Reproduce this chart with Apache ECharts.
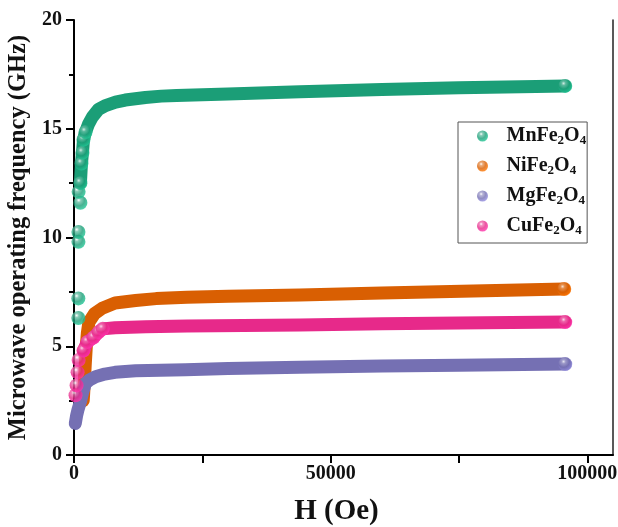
<!DOCTYPE html>
<html>
<head>
<meta charset="utf-8">
<script src="https://cdn.jsdelivr.net/npm/echarts@6/dist/echarts.min.js"></script>
<style>html,body{margin:0;padding:0;background:#fff;}#c{width:618px;height:527px;}</style>
</head>
<body>
<div id="c"></div>
<script>
// ---- data (H in Oe, frequency in GHz) ----
const names = ['MnFe2O4', 'NiFe2O4', 'MgFe2O4', 'CuFe2O4'];
const legendLabels = ['MnFe{s|2}O{s|4}', 'NiFe{s|2}O{s|4}', 'MgFe{s|2}O{s|4}', 'CuFe{s|2}O{s|4}'];

const hMn = [850, 850, 870, 870, 1250, 900, 1250, 1450, 1650, 1850, 2250, 2800, 3600, 4800, 6000, 8100, 10000, 13900, 17000, 20000, 30000, 44000, 60000, 75000, 90000, 95700];
const fMn = [6.3, 7.2, 9.8, 10.25, 11.6, 12.1, 12.5, 13.4, 13.9, 14.5, 14.85, 15.2, 15.55, 15.9, 16.05, 16.22, 16.32, 16.44, 16.5, 16.53, 16.6, 16.7, 16.8, 16.88, 16.94, 16.97];

const hNi = [1800, 2000, 2200, 2400, 2600, 2900, 4000, 5500, 8000, 12000, 16000, 22000, 30000, 44000, 60000, 80000, 95500];
const fNi = [2.5, 3.3, 4.2, 5.0, 5.6, 6.1, 6.5, 6.75, 6.99, 7.1, 7.19, 7.25, 7.3, 7.36, 7.45, 7.55, 7.63];

const hMg = [250, 500, 800, 1250, 1700, 2250, 3000, 4200, 6000, 8000, 12000, 21700, 30000, 44000, 60000, 75000, 95700];
const fMg = [1.45, 1.8, 2.1, 2.45, 2.9, 3.3, 3.45, 3.6, 3.72, 3.8, 3.87, 3.92, 3.98, 4.04, 4.09, 4.13, 4.18];

const hCu = [300, 500, 700, 900, 1850, 2600, 3800, 4800, 5600, 8000, 14000, 22000, 44000, 60000, 80000, 95700];
const fCu = [2.75, 3.2, 3.8, 4.37, 4.8, 5.2, 5.4, 5.65, 5.8, 5.85, 5.9, 5.93, 5.98, 6.03, 6.08, 6.11];

const xTickLabels = [0, 50000, 100000];
const xTickMarks = [0, 25000, 50000, 75000, 100000];
const yTicks = [0, 5, 10, 15, 20];

// ---- styling ----
const colors = ['#1b9e77', '#d95f02', '#7570b3', '#e7298a'];
const fields = [hMn, hNi, hMg, hCu];
const freqs = [fMn, fNi, fMg, fCu];
// index where the continuous band begins, and how many leading points are drawn as separate spheres
const bandFrom = [6, 0, 0, 4];
const sphereCount = [11, 0, 0, 9];

function sphere(c) {
  return {
    type: 'radial', x: 0.38, y: 0.32, r: 0.68,
    colorStops: [
      { offset: 0, color: '#ffffff' },
      { offset: 0.22, color: echarts.color.lift(c, 0.35) },
      { offset: 0.6, color: c },
      { offset: 1, color: echarts.color.lift(c, -0.25) }
    ]
  };
}

const font = '"Liberation Serif", "Times New Roman", serif';
const series = [];
names.forEach((n, i) => {
  const pts = fields[i].map((h, k) => [h, freqs[i][k]]);
  const sp = pts.slice(0, sphereCount[i]).concat([pts[pts.length - 1]]);
  series.push({
    name: n, type: 'scatter', data: sp, symbol: 'circle', symbolSize: 14,
    itemStyle: { color: sphere(colors[i]) }, z: 5, silent: true
  });
});
names.forEach((n, i) => {
  const pts = fields[i].map((h, k) => [h, freqs[i][k]]).slice(bandFrom[i]);
  series.push({
    name: n, type: 'line', data: pts, showSymbol: false, smooth: false,
    lineStyle: { color: colors[i], width: 13, cap: 'round', join: 'round' },
    itemStyle: { color: colors[i] }, z: 3, silent: true
  });
});

const chart = echarts.init(document.getElementById('c'), null, { renderer: 'canvas' });
chart.setOption({
  animation: false,
  backgroundColor: '#ffffff',
  grid: { left: 74, right: 5, top: 20, bottom: 72, containLabel: false, outerBoundsMode: 'none' },
  legend: {
    data: names.map(n => ({ name: n, icon: 'circle' })),
    orient: 'vertical', left: 458, top: 122,
    itemWidth: 38, itemHeight: 11, itemGap: 8,
    padding: [3, 1, 6, 19],
    borderColor: '#555', borderWidth: 1,
    formatter: name => legendLabels[names.indexOf(name)],
    textStyle: {
      fontFamily: font, fontWeight: 'bold', fontSize: 20, color: '#111', lineHeight: 22,
      rich: { s: { fontFamily: font, fontWeight: 'bold', fontSize: 13, lineHeight: 9, verticalAlign: 'bottom', color: '#111' } }
    }
  },
  xAxis: {
    type: 'value', min: 0, max: 105000, interval: 50000,
    name: 'H (Oe)', nameLocation: 'middle', nameGap: 42,
    nameTextStyle: { fontFamily: font, fontWeight: 'bold', fontSize: 29, color: '#111', padding: [0, 14, 0, 0] },
    axisLine: { show: true, onZero: false, lineStyle: { color: '#000', width: 2 } },
    axisTick: { show: true, inside: false, length: 8, lineStyle: { color: '#000', width: 2 }, customValues: xTickMarks },
    minorTick: { show: false },
    axisLabel: { customValues: xTickLabels, formatter: v => String(v), margin: 9, fontFamily: font, fontWeight: 'bold', fontSize: 20, color: '#111' },
    splitLine: { show: false }
  },
  yAxis: [{
    type: 'value', min: 0, max: 20, interval: 5,
    name: 'Microwave operating frequency (GHz)', nameLocation: 'middle', nameGap: 37,
    nameTextStyle: { fontFamily: font, fontWeight: 'bold', fontSize: 24.5, color: '#111' },
    axisLine: { show: true, onZero: false, lineStyle: { color: '#000', width: 2 } },
    axisTick: { show: true, inside: false, length: 8, lineStyle: { color: '#000', width: 2 } },
    minorTick: { show: true, splitNumber: 2, length: 5, lineStyle: { color: '#000', width: 2 } },
    axisLabel: { customValues: yTicks, margin: 12, fontFamily: font, fontWeight: 'bold', fontSize: 20, color: '#111' },
    splitLine: { show: false }
  }, {
    type: 'value', min: 0, max: 20, position: 'right',
    axisLine: { show: true, onZero: false, lineStyle: { color: '#222', width: 1.5 } },
    axisTick: { show: false }, axisLabel: { show: false }, splitLine: { show: false }
  }],
  series: series
});
</script>
</body>
</html>
